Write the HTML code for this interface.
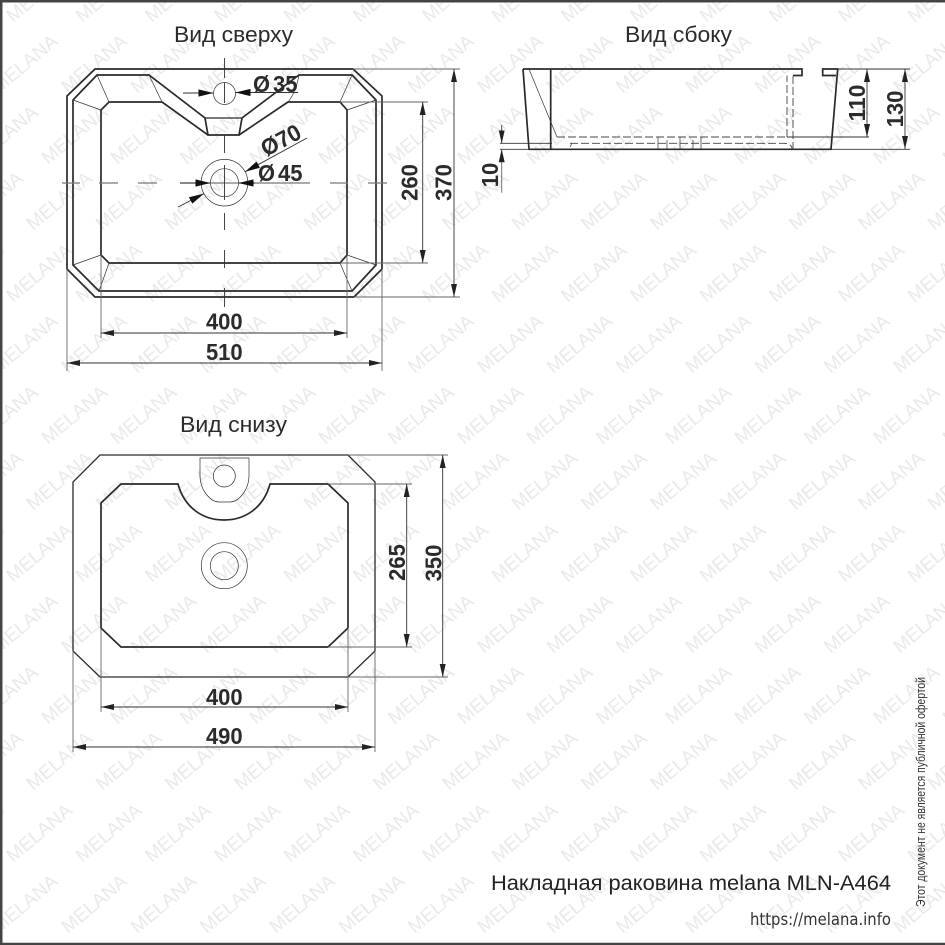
<!DOCTYPE html>
<html lang="ru"><head><meta charset="utf-8"><title>MLN-A464</title>
<style>html,body{margin:0;padding:0;background:#fff}svg{display:block}
.o{fill:none;stroke:#2a2a2a;stroke-width:1.7;stroke-linejoin:miter}
.t{fill:none;stroke:#333;stroke-width:.7}
.d{fill:none;stroke:#333;stroke-width:.9}
.e{fill:none;stroke:#666;stroke-width:.9}
.c{fill:none;stroke:#777;stroke-width:1.2}
.h{fill:none;stroke:#444;stroke-width:.9;stroke-dasharray:8 3}
.n{font:bold 23px "Liberation Sans",sans-serif;fill:#2b2b2b;text-anchor:middle}
.s{font:bold 23px "Liberation Sans",sans-serif;fill:#2b2b2b}
.l{font:22.5px "Liberation Sans",sans-serif;fill:#2b2b2b}
.w{font:19px "Liberation Sans",sans-serif;fill:#e9e9e9}
</style></head><body>
<svg width="945" height="945" viewBox="0 0 945 945" xmlns="http://www.w3.org/2000/svg">
<defs>
<marker id="a" markerUnits="userSpaceOnUse" markerWidth="15" markerHeight="8" refX="13" refY="4" orient="auto-start-reverse"><path d="M0 1L13 4L0 7Z" fill="#222"/></marker>
<marker id="b" markerUnits="userSpaceOnUse" markerWidth="17" markerHeight="10" refX="15" refY="5" orient="auto"><path d="M0 1.4L15 5L0 8.6Z" fill="#111"/></marker>
<pattern id="wm" x="0" y="170" width="69.33" height="280" patternUnits="userSpaceOnUse">
<text class="w" textLength="79" lengthAdjust="spacingAndGlyphs" transform="translate(33 61) rotate(-40)">MELANA</text>
<text class="w" textLength="79" lengthAdjust="spacingAndGlyphs" transform="translate(-36.33 61) rotate(-40)">MELANA</text>
<text class="w" textLength="79" lengthAdjust="spacingAndGlyphs" transform="translate(13 133) rotate(-40)">MELANA</text>
<text class="w" textLength="79" lengthAdjust="spacingAndGlyphs" transform="translate(-56.33 133) rotate(-40)">MELANA</text>
<text class="w" textLength="79" lengthAdjust="spacingAndGlyphs" transform="translate(68 204) rotate(-40)">MELANA</text>
<text class="w" textLength="79" lengthAdjust="spacingAndGlyphs" transform="translate(-1.33 204) rotate(-40)">MELANA</text>
<text class="w" textLength="79" lengthAdjust="spacingAndGlyphs" transform="translate(48 275) rotate(-40)">MELANA</text>
<text class="w" textLength="79" lengthAdjust="spacingAndGlyphs" transform="translate(-21.33 275) rotate(-40)">MELANA</text>
</pattern>
</defs>
<rect width="945" height="945" fill="#fff"/>
<rect width="945" height="945" fill="url(#wm)"/>

<!-- Titles -->
<text class="l" x="174" y="42" textLength="119" lengthAdjust="spacingAndGlyphs">Вид сверху</text>
<text class="l" x="625" y="42" textLength="107" lengthAdjust="spacingAndGlyphs">Вид сбоку</text>
<text class="l" x="180" y="432" textLength="107" lengthAdjust="spacingAndGlyphs">Вид снизу</text>

<!-- Top view -->
<path class="o" d="M95 69H353L382 96V269L354 297H95L67 269V96Z"/>
<path class="o" d="M97 75H149L205 118L208 135H239L242 118L299 75H352L376 100V265L352 291H99L73 265V100Z"/>
<path class="o" d="M162 102H109L101 110V255L109 263H340L347 255V110L340 102H288L239 135M162 102L208 135"/>
<path class="o" style="stroke-width:1.2" d="M205 118H242"/>
<path class="t" d="M97 75L109 102M73 100L101 110M352 75L340 102M376 100L347 110M101 255L73 265M109 263L99 291M340 263L352 291M347 255L376 265M149 75L162 102M299 75Q296 92 288 102"/>
<circle class="t" cx="224.5" cy="93.5" r="11"/>
<circle class="t" cx="224.5" cy="182.7" r="23.3"/>
<circle class="t" cx="224.5" cy="182.7" r="14"/>
<path class="c" d="M62 183H80M99 183H118M138 183H157M180 183H310M330 183H348M368 183H387"/>
<path class="d" d="M224.5 58V78M224.5 83V103M224.5 135V153M224.5 165V200M224.5 213V230M224.5 250V268M224.5 288V307"/>
<line class="d" x1="183" y1="93" x2="213.5" y2="93" marker-end="url(#b)"/>
<line class="d" x1="298" y1="92.5" x2="235.5" y2="92.5" marker-end="url(#b)"/>
<line class="d" x1="180" y1="183" x2="210.5" y2="183" marker-end="url(#b)"/>
<line class="d" x1="255" y1="183" x2="238.5" y2="183" marker-end="url(#b)"/>
<line class="d" x1="307" y1="138" x2="245.1" y2="171.8" marker-end="url(#b)"/>
<line class="d" x1="178" y1="207" x2="203.9" y2="193.6" marker-end="url(#b)"/>
<text class="s" x="253" y="92" textLength="17" lengthAdjust="spacingAndGlyphs">Ø</text><text class="s" x="273" y="92" textLength="24.5" lengthAdjust="spacingAndGlyphs">35</text>
<text class="s" x="258" y="181" textLength="17" lengthAdjust="spacingAndGlyphs">Ø</text><text class="s" x="278" y="181" textLength="24.5" lengthAdjust="spacingAndGlyphs">45</text>
<text class="s" transform="translate(266 157) rotate(-28)" textLength="42" lengthAdjust="spacingAndGlyphs">Ø70</text>
<path class="e" d="M340 102H428M340 263H428M353 69H460M354 297H460M101 255V338M347 255V338M67 269V371M382 269V371"/>
<line class="d" x1="422.7" y1="102" x2="422.7" y2="263" marker-start="url(#a)" marker-end="url(#a)"/>
<line class="d" x1="454" y1="69" x2="454" y2="297" marker-start="url(#a)" marker-end="url(#a)"/>
<line class="d" x1="101" y1="333" x2="347" y2="333" marker-start="url(#a)" marker-end="url(#a)"/>
<line class="d" x1="67" y1="363" x2="382" y2="363" marker-start="url(#a)" marker-end="url(#a)"/>
<text class="n" x="224.3" y="329.5" textLength="36.7" lengthAdjust="spacingAndGlyphs">400</text>
<text class="n" x="224.3" y="360" textLength="36.7" lengthAdjust="spacingAndGlyphs">510</text>
<text class="n" transform="translate(417.5 182.5) rotate(-90)" textLength="36.7" lengthAdjust="spacingAndGlyphs">260</text>
<text class="n" transform="translate(451.7 182.5) rotate(-90)" textLength="36.7" lengthAdjust="spacingAndGlyphs">370</text>

<!-- Side view -->
<path class="o" d="M523 69H802V75.5H793M523 69L529 149.3H831L837.7 69H822.7V75.5H836M550.7 69V149.3"/>
<path class="t" d="M529 69L557 137"/>
<path class="h" d="M557 137H787M787 137V75.5M793 76V149"/>
<path class="h" d="M570 143.3H783Q792 143.3 792 149"/>
<path class="d" d="M787 137H869M500 143.3H552M500 149.3H529M831 149.3H910M837.7 69H910"/>
<path class="t" d="M658 137V149M667 140V149M680 137V149M693 140V149M701 137V149M570 147L572 143"/>
<line class="d" x1="867" y1="69" x2="867" y2="137" marker-start="url(#a)" marker-end="url(#a)"/>
<line class="d" x1="905" y1="69" x2="905" y2="149" marker-start="url(#a)" marker-end="url(#a)"/>
<line class="d" x1="501.7" y1="125" x2="501.7" y2="143.3" marker-end="url(#a)"/>
<line class="e" x1="501.7" y1="192.7" x2="501.7" y2="149.3" marker-end="url(#a)"/>
<text class="n" transform="translate(865 103) rotate(-90)" textLength="36.7" lengthAdjust="spacingAndGlyphs">110</text>
<text class="n" transform="translate(903 109) rotate(-90)" textLength="36.7" lengthAdjust="spacingAndGlyphs">130</text>
<text class="n" transform="translate(498 175) rotate(-90)" textLength="24.5" lengthAdjust="spacingAndGlyphs">10</text>

<!-- Bottom view -->
<path class="o" style="stroke-width:1.3" d="M100 455H348L375 482V651L348 677H100L73 651V482Z"/>
<path class="o" d="M121 484H178C184 506 201 520 224 520C247 520 264 506 270 484H328L348 503V628L328 647H121L101 628V503Z"/>
<path class="t" d="M200 458H249V475C249 491 238 502 230 502H219C211 502 200 491 200 475Z"/>
<circle class="t" cx="224.3" cy="476" r="11"/>
<circle class="t" cx="224.3" cy="565.7" r="23"/>
<circle class="t" cx="224.3" cy="565.7" r="14"/>
<path class="e" d="M328 484H412M328 647H412M348 455H448M348 677H448M101 628V712M348 628V712M73 651V752M375 651V752"/>
<line class="d" x1="406.7" y1="484" x2="406.7" y2="647" marker-start="url(#a)" marker-end="url(#a)"/>
<line class="d" x1="442.7" y1="455" x2="442.7" y2="677" marker-start="url(#a)" marker-end="url(#a)"/>
<line class="d" x1="101" y1="707" x2="348" y2="707" marker-start="url(#a)" marker-end="url(#a)"/>
<line class="d" x1="73" y1="747" x2="375" y2="747" marker-start="url(#a)" marker-end="url(#a)"/>
<text class="n" x="224.3" y="705" textLength="36.7" lengthAdjust="spacingAndGlyphs">400</text>
<text class="n" x="224.3" y="744" textLength="36.7" lengthAdjust="spacingAndGlyphs">490</text>
<text class="n" transform="translate(405 562.5) rotate(-90)" textLength="36.7" lengthAdjust="spacingAndGlyphs">265</text>
<text class="n" transform="translate(441.7 563) rotate(-90)" textLength="36.7" lengthAdjust="spacingAndGlyphs">350</text>

<!-- Captions -->
<text x="491" y="890" textLength="400" lengthAdjust="spacingAndGlyphs" style="font:21.5px 'Liberation Sans',sans-serif;fill:#222">Накладная раковина melana MLN-A464</text>
<text x="750" y="925" textLength="141" lengthAdjust="spacingAndGlyphs" style="font:17px 'DejaVu Sans',sans-serif;fill:#333">https://melana.info</text>
<text transform="translate(925 907) rotate(-90)" textLength="230" lengthAdjust="spacingAndGlyphs" style="font:13px 'Liberation Sans',sans-serif;fill:#333">Этот документ не является публичной офертой</text>

<!-- Frame -->
<path d="M0 0H945V2.5H2.5V942.7H945V945H0Z" fill="#444"/>
</svg>
</body></html>
